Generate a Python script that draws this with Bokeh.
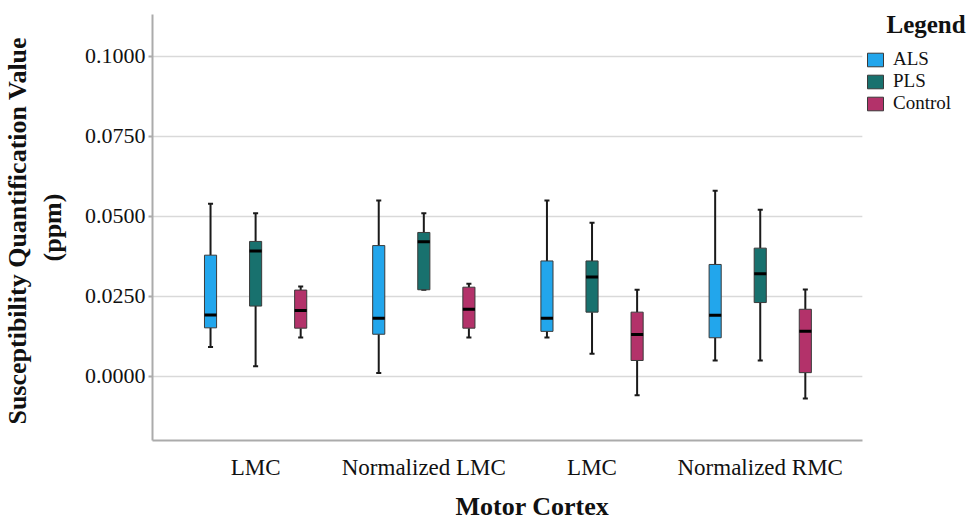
from bokeh.plotting import figure
from bokeh.models import (Range1d, FixedTicker, PrintfTickFormatter, Legend, LegendItem, Label,
                          BoxAnnotation, Title)
from bokeh.embed import file_html
from bokeh.resources import INLINE

# ---- data ----
regions = ["LMC", "Normalized LMC", "LMC", "Normalized RMC"]
series = ["ALS", "PLS", "Control"]
colors = ["#22A6EC", "#18716E", "#B3326A"]

als_low = [0.0092, 0.0011, 0.0122, 0.0050]
als_q1 = [0.0152, 0.0132, 0.0141, 0.0121]
als_med = [0.0192, 0.0182, 0.0182, 0.0191]
als_q3 = [0.0379, 0.0409, 0.0361, 0.0350]
als_high = [0.0540, 0.0550, 0.0550, 0.0580]

pls_low = [0.0032, 0.0271, 0.0071, 0.0050]
pls_q1 = [0.0220, 0.0271, 0.0201, 0.0231]
pls_med = [0.0392, 0.0421, 0.0311, 0.0321]
pls_q3 = [0.0422, 0.0450, 0.0361, 0.0401]
pls_high = [0.0510, 0.0510, 0.0480, 0.0521]

ctl_low = [0.0122, 0.0122, -0.0059, -0.0069]
ctl_q1 = [0.0151, 0.0151, 0.0050, 0.0012]
ctl_med = [0.0206, 0.0210, 0.0131, 0.0141]
ctl_q3 = [0.0270, 0.0279, 0.0201, 0.0210]
ctl_high = [0.0281, 0.0290, 0.0271, 0.0272]

y_ticks = [0.0, 0.025, 0.05, 0.075, 0.1]

stats = [
    (als_low, als_q1, als_med, als_q3, als_high),
    (pls_low, pls_q1, pls_med, pls_q3, pls_high),
    (ctl_low, ctl_q1, ctl_med, ctl_q3, ctl_high),
]

SERIF = "Liberation Serif"
X_START, X_AXIS_END, X_END = -0.613, 3.607, 4.250

p = figure(width=970, height=528, output_backend="svg", toolbar_location=None,
           x_range=Range1d(X_START, X_END), y_range=Range1d(-0.02, 0.1131),
           min_border_left=152, min_border_right=0, min_border_top=14, min_border_bottom=88)
p.outline_line_color = None
p.background_fill_color = "white"
p.xgrid.grid_line_color = None
p.ygrid.grid_line_color = "#d9d9d9"
p.ygrid.grid_line_width = 1.5
p.ygrid.ticker = FixedTicker(ticks=y_ticks)

# blank out the area right of the plotting region (legend area)
p.add_layout(BoxAnnotation(left=X_AXIS_END, fill_color="white", fill_alpha=1.0,
                           line_color=None, level="underlay"))

offsets = [-0.268, 0.0, 0.268]
box_w = 0.072
cap_w = 0.03

items = []
for k, (lo, q1, med, q3, hi) in enumerate(stats):
    xs = [i + offsets[k] for i in range(len(regions))]
    p.segment(x0=xs, y0=q3, x1=xs, y1=hi, line_color="#1a1a1a", line_width=2)
    p.segment(x0=xs, y0=lo, x1=xs, y1=q1, line_color="#1a1a1a", line_width=2)
    p.segment(x0=[x - cap_w / 2 for x in xs], y0=hi, x1=[x + cap_w / 2 for x in xs], y1=hi,
              line_color="#1a1a1a", line_width=2)
    p.segment(x0=[x - cap_w / 2 for x in xs], y0=lo, x1=[x + cap_w / 2 for x in xs], y1=lo,
              line_color="#1a1a1a", line_width=2)
    r = p.vbar(x=xs, width=box_w, bottom=q1, top=q3, fill_color=colors[k],
               line_color="#3a3a3a", line_width=1)
    p.segment(x0=[x - box_w / 2 for x in xs], y0=med, x1=[x + box_w / 2 for x in xs], y1=med,
              line_color="black", line_width=3)
    items.append(LegendItem(label=series[k], renderers=[r]))

# axes
p.xaxis.ticker = FixedTicker(ticks=list(range(len(regions))))
p.xaxis.major_label_overrides = {i: name for i, name in enumerate(regions)}
p.xaxis.bounds = (X_START, X_AXIS_END)
p.yaxis.ticker = FixedTicker(ticks=y_ticks)
p.yaxis.formatter = PrintfTickFormatter(format="%.4f")
for ax in (p.xaxis[0], p.yaxis[0]):
    ax.axis_line_color = "#ababab"
    ax.axis_line_width = 2
    ax.minor_tick_line_color = None
    ax.major_label_text_font = SERIF
    ax.major_label_text_color = "#111111"
    ax.axis_label_text_font = SERIF
    ax.axis_label_text_font_size = "26px"
    ax.axis_label_text_font_style = "bold"
    ax.axis_label_text_color = "#111111"
p.xaxis.major_label_text_font_size = "23px"
p.yaxis.major_label_text_font_size = "22px"
p.xaxis.major_tick_line_color = None
p.xaxis.major_tick_out = 0
p.xaxis.major_tick_in = 0
p.xaxis.major_label_standoff = 14
p.yaxis.major_tick_line_color = "#ababab"
p.yaxis.major_tick_line_width = 2
p.yaxis.major_tick_out = 4
p.yaxis.major_tick_in = 0
p.yaxis.major_label_standoff = 3
p.yaxis.axis_label = "Susceptibility  Quantification Value\n(ppm)"
p.yaxis.axis_label_standoff = 15

# x-axis title, centred on the whole chart area (plot + legend) as in the reference
p.add_layout(Title(text="Motor Cortex", align="left", offset=303, standoff=14,
                   text_font=SERIF, text_font_size="26px", text_font_style="bold",
                   text_color="#111111"), "below")

legend = Legend(items=items, location=(713, 326), orientation="vertical",
                glyph_width=20, glyph_height=17, label_height=22, spacing=0,
                label_standoff=8, padding=0, margin=0,
                label_text_font=SERIF, label_text_font_size="19px", label_text_color="#111111",
                border_line_color=None, background_fill_alpha=0)
p.add_layout(legend)

title = Label(x=734, y=416, x_units="screen", y_units="screen", text="Legend",
              text_font=SERIF, text_font_size="25px", text_font_style="bold",
              text_baseline="middle", text_align="left", text_color="#111111")
p.add_layout(title)

open("out.html", "w").write(file_html(p, INLINE))
